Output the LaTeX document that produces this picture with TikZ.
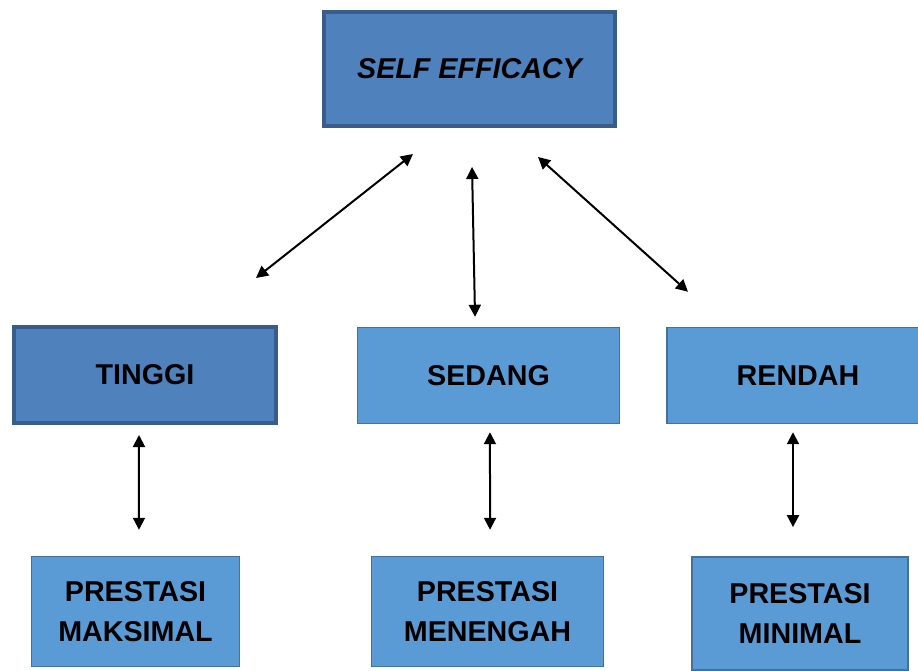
\documentclass[tikz,border=0pt]{standalone}
\usepackage{fontspec}
\setmainfont{Liberation Sans}
\usetikzlibrary{arrows.meta}
\definecolor{darkfill}{HTML}{4F81BD}
\definecolor{darkline}{HTML}{385D8A}
\definecolor{lightfill}{HTML}{5B9BD5}
\definecolor{lightline}{HTML}{41719C}

\begin{document}
\begin{tikzpicture}[x=0.75pt, y=-0.75pt,
    darkbox/.style={draw=darkline, line width=3pt, fill=darkfill, align=center, font=\fontsize{21.5}{30}\selectfont\bfseries, inner sep=0pt},
    lightbox/.style={draw=lightline, line width=1.1pt, fill=lightfill, align=center, font=\fontsize{21.5}{30}\selectfont\bfseries, inner sep=0pt},
    arrow/.style={{Triangle[length=9pt,width=9pt]}-{Triangle[length=9pt,width=9pt]}, line width=1.5pt, black}
  ]
    \clip (0,0) rectangle (918,671);
    \fill[white] (0,0) rectangle (918,671);

    \node[darkbox, minimum width=218pt, minimum height=85.5pt] (self) at (469.5,69) {\itshape SELF EFFICACY};

    \node[darkbox, minimum width=196.5pt, minimum height=72pt] (tinggi) at (145,375) {TINGGI};
    \node[lightbox, minimum width=196.5pt, minimum height=72pt] (sedang) at (488.5,375.5) {SEDANG};
    \node[lightbox, minimum width=196.5pt, minimum height=72pt] (rendah) at (798,375.5) {RENDAH};

    \node[lightbox, minimum width=156pt, minimum height=82.5pt] (maksimal) at (135.5,611.5) {PRESTASI\\MAKSIMAL};
    \node[lightbox, minimum width=174pt, minimum height=82.5pt] (menengah) at (487.5,611.5) {PRESTASI\\MENENGAH};
    \node[lightbox, minimum width=162pt, minimum height=85pt] (minimal) at (800,613.5) {PRESTASI\\MINIMAL};

    \draw[arrow] ([xshift=83.25pt, yshift=35.25pt]tinggi.north) -- ([xshift=-42.4pt, yshift=-19.5pt]self.south);
    \draw[arrow] ([xshift=-10.1pt, yshift=7.5pt]sedang.north) -- ([xshift=1.9pt, yshift=-29.25pt]self.south);
    \draw[arrow] ([xshift=-82.5pt, yshift=26.25pt]rendah.north) -- ([xshift=51.4pt, yshift=-21.75pt]self.south);

    \draw[arrow] ([xshift=-4.5pt, yshift=-7.5pt]tinggi.south) -- ([xshift=2.6pt, yshift=19.5pt]maksimal.north);
    \draw[arrow] ([xshift=1.1pt, yshift=-6pt]sedang.south) -- ([xshift=1.9pt, yshift=19.5pt]menengah.north);
    \draw[arrow] ([xshift=-3.75pt, yshift=-6pt]rendah.south) -- ([xshift=-5.25pt, yshift=21.75pt]minimal.north);

  \end{tikzpicture}
\end{document}
